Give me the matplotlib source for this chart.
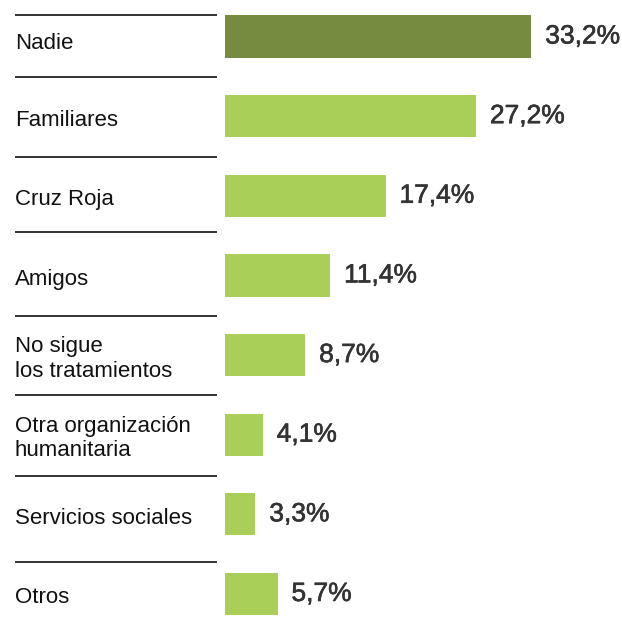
import matplotlib.pyplot as plt
import matplotlib.patheffects as pe

# Datos
categorias = ['Nadie', 'Familiares', 'Cruz Roja', 'Amigos',
              'No sigue\nlos tratamientos', 'Otra organización\nhumanitaria',
              'Servicios sociales', 'Otros']
valores = [33.2, 27.2, 17.4, 11.4, 8.7, 4.1, 3.3, 5.7]
etiquetas = ['33,2%', '27,2%', '17,4%', '11,4%', '8,7%', '4,1%', '3,3%', '5,7%']

verde_oscuro = '#768a40'
verde_claro = '#a9cf58'
colores = [verde_oscuro] + [verde_claro] * (len(valores) - 1)

plt.rcParams['font.family'] = ['Liberation Sans', 'DejaVu Sans']

W, H = 622, 617
fig = plt.figure(figsize=(W / 100, H / 100), dpi=100)
ax = fig.add_axes([0, 0, 1, 1])

# escala: píxeles por punto porcentual y por fila
px_x = 9.23
x0 = 225
px_y = 79.64
y0 = 36.5
ax.set_xlim(-x0 / px_x, (W - x0) / px_x)
ax.set_ylim((H - y0) / px_y, -y0 / px_y)
ax.axis('off')

pos = list(range(len(categorias)))
ax.barh(pos, valores, height=0.53, color=colores)

x_texto = (15 - x0) / px_x
x_fin_linea = (217 - x0) / px_x
trazo = [pe.withStroke(linewidth=0.45, foreground='#333333')]
for i, (cat, v, et) in enumerate(zip(categorias, valores, etiquetas)):
    dy = 0.09 if i == 0 else 0.05
    ax.text(x_texto, i + dy, cat, ha='left', va='center', fontsize=16,
            color='#111111', linespacing=1.2)
    ax.text(v + 1.5, i, et, ha='left', va='center', fontsize=19,
            color='#333333', path_effects=trazo)

# líneas separadoras de la columna de etiquetas
separadores = [-0.27, 0.51, 1.51, 2.46, 3.51, 4.5, 5.52, 6.6]
for s in separadores:
    ax.plot([x_texto, x_fin_linea], [s, s], color='#222222', lw=1.3,
            solid_capstyle='butt')

fig.savefig('out.png', dpi=100)
